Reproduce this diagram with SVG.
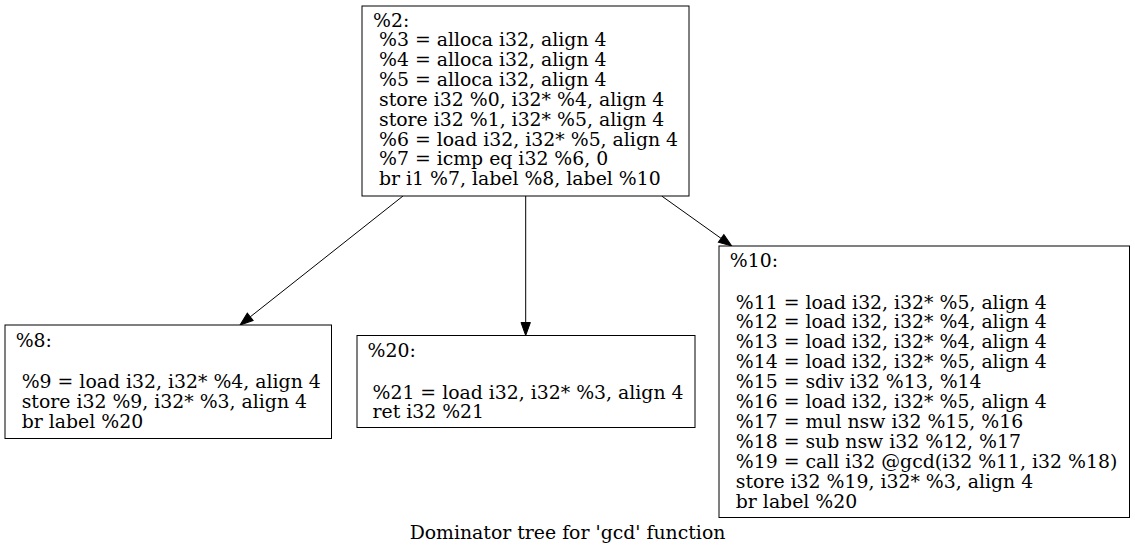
<svg xmlns="http://www.w3.org/2000/svg" width="1135" height="555" viewBox="0 0 1135 555">
<style>
  .box { fill: #ffffff; stroke: #000000; stroke-width: 1; }
  .lbl { font-family: "DejaVu Serif", "Liberation Serif", serif; font-size: 18.85px; fill: #000000; }
  .edge { fill: none; stroke: #000000; stroke-width: 1; }
</style>
<defs>
  <marker id="arrow" markerUnits="userSpaceOnUse" markerWidth="14" markerHeight="10" refX="0" refY="4.7" orient="auto" overflow="visible">
    <path d="M0,0 L13,4.7 L0,9.4 Z" fill="#000000" stroke="#000000" stroke-width="1"/>
  </marker>
</defs>
<rect x="0" y="0" width="1135" height="555" fill="#ffffff"/>

<g id="edges">
  <line class="edge" x1="403" y1="196" x2="250.2" y2="316.9" marker-end="url(#arrow)"/>
  <line class="edge" x1="525.7" y1="196" x2="525.7" y2="322.5" marker-end="url(#arrow)"/>
  <line class="edge" x1="661.7" y1="196" x2="721.1" y2="238.4" marker-end="url(#arrow)"/>
</g>

<g id="node2">
  <rect class="box" x="362" y="6" width="327" height="190"/>
  <text class="lbl" x="373" y="26.5">%2:</text>
  <text class="lbl" x="379" y="46.35">%3 = alloca i32, align 4</text>
  <text class="lbl" x="379" y="66.2">%4 = alloca i32, align 4</text>
  <text class="lbl" x="379" y="86.05">%5 = alloca i32, align 4</text>
  <text class="lbl" x="379" y="105.9">store i32 %0, i32* %4, align 4</text>
  <text class="lbl" x="379" y="125.75">store i32 %1, i32* %5, align 4</text>
  <text class="lbl" x="379" y="145.6">%6 = load i32, i32* %5, align 4</text>
  <text class="lbl" x="379" y="165.45">%7 = icmp eq i32 %6, 0</text>
  <text class="lbl" x="379" y="185.3">br i1 %7, label %8, label %10</text>
</g>

<g id="node8">
  <rect class="box" x="5" y="325" width="326.5" height="113.5"/>
  <text class="lbl" x="15.7" y="346.5">%8:</text>
  <text class="lbl" x="21.7" y="388">%9 = load i32, i32* %4, align 4</text>
  <text class="lbl" x="21.7" y="407.9">store i32 %9, i32* %3, align 4</text>
  <text class="lbl" x="21.7" y="427.8">br label %20</text>
</g>

<g id="node20">
  <rect class="box" x="357" y="335.5" width="338" height="92"/>
  <text class="lbl" x="367.5" y="357">%20:</text>
  <text class="lbl" x="372.5" y="398.5">%21 = load i32, i32* %3, align 4</text>
  <text class="lbl" x="372.5" y="418.4">ret i32 %21</text>
</g>

<g id="node10">
  <rect class="box" x="719" y="246" width="410.5" height="271.5"/>
  <text class="lbl" x="729.8" y="267">%10:</text>
  <text class="lbl" x="735.8" y="308.5">%11 = load i32, i32* %5, align 4</text>
  <text class="lbl" x="735.8" y="328.4">%12 = load i32, i32* %4, align 4</text>
  <text class="lbl" x="735.8" y="348.3">%13 = load i32, i32* %4, align 4</text>
  <text class="lbl" x="735.8" y="368.2">%14 = load i32, i32* %5, align 4</text>
  <text class="lbl" x="735.8" y="388.1">%15 = sdiv i32 %13, %14</text>
  <text class="lbl" x="735.8" y="408">%16 = load i32, i32* %5, align 4</text>
  <text class="lbl" x="735.8" y="427.9">%17 = mul nsw i32 %15, %16</text>
  <text class="lbl" x="735.8" y="447.8">%18 = sub nsw i32 %12, %17</text>
  <text class="lbl" x="735.8" y="467.7">%19 = call i32 @gcd(i32 %11, i32 %18)</text>
  <text class="lbl" x="735.8" y="487.6">store i32 %19, i32* %3, align 4</text>
  <text class="lbl" x="735.8" y="507.5">br label %20</text>
</g>

<text class="lbl" x="567.5" y="539" text-anchor="middle">Dominator tree for 'gcd' function</text>
</svg>
